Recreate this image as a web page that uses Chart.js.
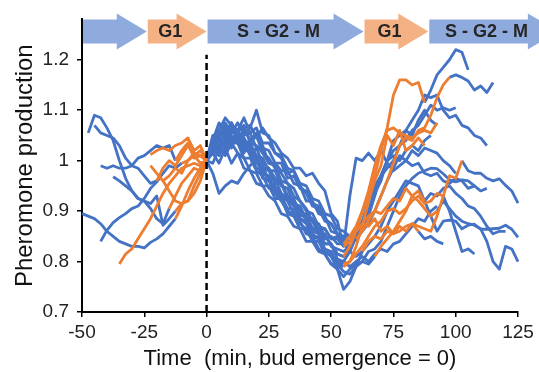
<!DOCTYPE html>
<html>
<head>
<meta charset="utf-8">
<script src="https://cdn.jsdelivr.net/npm/chart.js@4.4.0/dist/chart.umd.min.js"></script>
<style>
  body { margin: 0; background: #fff; }
  .box { width: 539px; height: 372px; }
</style>
</head>
<body>
<div class="box"><canvas id="myChart"></canvas></div>
<script>
// minutes between two points of a trace
const STEP = 2.5;

// every row: start time (min), then pheromone values every STEP min

// S-G2-M before the first G1 (blue)
const preBlue = [
  [-47.5, 1.055, 1.09, 1.085, 1.065, 1.04, 1.0, 0.965, 0.94, 0.925, 0.92, 0.905, 0.885, 0.875, 0.905],
  [-45, 1.07, 1.055, 1.05, 1.045, 1.03, 1.005, 0.99, 0.985, 0.97, 0.955, 0.96],
  [-42.5, 0.99, 0.985, 0.99, 0.985, 0.985, 0.99, 1.005, 1.01, 1.02, 1.03, 1.025, 1.03, 1.0],
  [-50, 0.895, 0.89, 0.885, 0.875, 0.86, 0.85, 0.84, 0.835, 0.83, 0.83, 0.827, 0.838, 0.845, 0.855, 0.87, 0.885],
  [-42.5, 0.84, 0.862, 0.877, 0.887, 0.895, 0.905, 0.91, 0.925, 0.945, 0.958, 0.975, 0.99, 0.985, 0.995],
  [-37.5, 0.968, 0.96, 0.95, 0.94, 0.925, 0.92, 0.915, 0.93, 0.872, 0.885, 0.9]
];

// G1 before bud emergence (orange)
const g1Left = [
  [-15, 0.905, 0.93, 0.955, 0.97, 0.985, 0.98, 1.0],
  [-20, 0.96, 0.985, 1.0, 0.99, 1.01, 1.03, 1.01, 1.02, 1.0],
  [-12.5, 1.0, 1.02, 1.035, 1.005, 1.01, 1.0],
  [-12.5, 0.885, 0.91, 0.94, 0.965, 0.985, 1.0],
  [-10, 0.995, 1.0, 1.01, 0.995, 1.0],
  [-35, 0.795, 0.815, 0.825, 0.845, 0.865, 0.885, 0.91, 0.935, 0.955, 0.97, 0.985, 0.99, 0.995, 0.99, 1.0],
  [-12.5, 0.9, 0.915, 0.92, 0.95, 0.975, 1.0],
  [-22.5, 1.012, 1.02, 1.025, 1.02, 1.03, 1.035, 1.045, 1.02, 1.03, 1.0],
  [-22.5, 0.99, 0.975, 0.96, 0.97, 0.985, 0.975, 1.0, 1.015, 1.01, 1.0],
  [-17.5, 0.96, 0.94, 0.92, 0.915, 0.92, 0.935, 0.96, 1.0]
];

// S-G2-M after bud emergence (blue)
const postBlue = [
  [0, 1.0, 1.03, 1.05, 1.065, 1.04, 1.055, 1.025, 1.03, 0.995, 0.99, 0.96, 0.965, 0.935, 0.925, 0.915, 0.89, 0.895, 0.865, 0.87, 0.845, 0.85, 0.835, 0.835],
  [0, 1.0, 1.025, 1.04, 1.075, 1.055, 1.075, 1.05, 1.055, 1.025, 1.03, 0.995, 0.99, 0.96, 0.955, 0.93, 0.92, 0.9, 0.895, 0.87, 0.865, 0.845, 0.85, 0.84, 0.83, 0.845],
  [0, 1.0, 1.045, 1.06, 1.085, 1.07, 1.06, 1.07, 1.035, 1.05, 1.015, 1.005, 0.985, 0.975, 0.955, 0.945, 0.92, 0.905, 0.88, 0.875, 0.85, 0.835, 0.815, 0.81,
    0.82, 0.85, 0.87, 0.9, 0.935, 0.96, 1.0, 1.04, 1.05, 1.06, 1.08, 1.1, 1.13, 1.125, 1.13, 1.1, 1.085, 1.09, 1.07, 1.065, 1.05, 1.045, 1.03],
  [0, 1.0, 1.02, 1.03, 1.015, 1.04, 1.035, 1.055, 1.065, 1.1, 1.055, 1.05, 1.015, 1.005, 0.975, 0.98, 0.95, 0.935, 0.91, 0.905, 0.88, 0.875, 0.855, 0.85,
    0.85, 0.86, 0.88, 0.9, 0.94, 0.97, 1.0, 1.02, 1.03, 1.04, 1.06, 1.07, 1.09, 1.11, 1.1, 1.105, 1.1, 1.105],
  [0, 1.0, 0.975, 0.935, 0.95, 0.96, 0.955, 0.975, 0.99, 1.005, 0.985, 0.98, 0.955, 0.955, 0.93, 0.925, 0.895, 0.89, 0.865, 0.86, 0.835, 0.835, 0.815, 0.81],
  [0, 1.0, 1.035, 1.06, 1.045, 1.075, 1.05, 1.045, 1.015, 1.005, 0.975, 0.97, 0.935, 0.93, 0.905, 0.905, 0.885, 0.88, 0.855, 0.845, 0.82, 0.82, 0.795, 0.79],
  [0, 1.0, 1.025, 1.01, 1.045, 1.025, 1.06, 1.04, 1.035, 1.03, 1.015, 0.995, 0.995, 0.98, 0.98, 0.955, 0.95, 0.92, 0.92, 0.895, 0.89, 0.86, 0.855, 0.835,
    0.82, 0.81, 0.82, 0.835, 0.85, 0.87, 0.9, 0.92, 0.94, 0.96, 0.955, 0.95, 0.92, 0.89, 0.86, 0.88, 0.882, 0.88, 0.865, 0.872, 0.874, 0.864, 0.864, 0.865, 0.866, 0.872, 0.864, 0.848],
  [0, 1.0, 1.015, 1.025, 1.01, 1.035, 1.015, 1.005, 0.98, 0.975, 0.95, 0.95, 0.925, 0.925, 0.895, 0.89, 0.865, 0.865, 0.84, 0.84, 0.815, 0.815, 0.8, 0.795],
  [0, 1.0, 1.04, 1.075, 1.055, 1.075, 1.045, 1.035, 1.02, 1.005, 0.965, 0.96, 0.935, 0.92, 0.9, 0.895, 0.875, 0.865, 0.845, 0.85, 0.825, 0.82, 0.785, 0.77,
    0.785, 0.795, 0.8, 0.82, 0.825, 0.84, 0.87, 0.9, 0.93, 0.95, 0.965, 0.975, 0.98, 0.985, 0.984, 0.974, 0.962, 0.958, 0.962, 0.96, 0.95],
  [0, 1.0, 1.025, 1.045, 1.065, 1.035, 1.055, 1.025, 1.015, 0.985, 0.98, 0.96, 0.95, 0.93, 0.92, 0.895, 0.88, 0.855, 0.85, 0.825, 0.815, 0.795, 0.785, 0.745, 0.76, 0.79, 0.82],
  [0, 1.0, 1.03, 1.01, 1.04, 1.05, 1.035, 1.065, 1.04, 1.055, 1.025, 1.02, 0.995, 0.995, 0.965, 0.97, 0.945, 0.94, 0.915, 0.91, 0.885, 0.875, 0.855, 0.845,
    0.84, 0.85, 0.87, 0.89, 0.93, 0.97, 1.0, 1.01, 1.0, 1.02, 1.03, 1.02, 1.04, 1.05],
  [0, 1.0, 1.015, 0.995, 1.025, 0.995, 1.015, 0.985, 0.98, 0.955, 0.95, 0.93, 0.92, 0.895, 0.89, 0.87, 0.865, 0.84, 0.84, 0.82, 0.815, 0.795, 0.795, 0.78,
    0.775, 0.79, 0.8, 0.795, 0.81],
  [0, 1.0, 1.045, 1.045, 1.07, 1.045, 1.045, 1.015, 1.035, 1.01, 1.005, 0.98, 0.98, 0.95, 0.945, 0.915, 0.91, 0.885, 0.88, 0.855, 0.855, 0.83, 0.825, 0.82,
    0.83, 0.845, 0.86, 0.875, 0.9, 0.93, 0.96, 0.985, 1.01, 1.0, 1.02, 1.01, 1.025, 1.02, 1.015, 1.0, 0.99, 0.975],
  [0, 1.0, 1.02, 1.04, 1.025, 1.055, 1.06, 1.085, 1.055, 1.065, 1.035, 1.035, 1.015, 1.01, 0.985, 0.98, 0.955, 0.95, 0.925, 0.92, 0.895, 0.89, 0.865, 0.86, 0.85, 0.86],
  [0, 1.0, 1.025, 1.03, 1.055, 1.035, 1.06, 1.065, 1.07, 1.045, 1.065, 1.045, 1.035, 1.015, 1.005, 0.985, 0.985, 0.97, 0.975, 0.955, 0.94, 0.895, 0.88, 0.83,
    0.93, 1.005, 1.0, 1.015, 1.0, 1.02, 0.995, 0.98, 0.99, 1.0, 0.99, 0.995, 0.975, 0.97, 0.975, 0.96, 0.955, 0.965, 0.96, 0.945, 0.95, 0.94, 0.945],
  [0, 1.0, 1.035, 1.045, 1.035, 1.065, 1.04, 1.035, 1.01, 1.025, 0.995, 0.985, 0.955, 0.955, 0.925, 0.915, 0.885, 0.875, 0.85, 0.845, 0.82, 0.81, 0.785, 0.8,
    0.79, 0.8, 0.81, 0.8, 0.815, 0.825, 0.82, 0.835, 0.84, 0.855, 0.87, 0.885, 0.88, 0.9, 0.91],
  [0, 1.0, 1.05, 1.055, 1.055, 1.035, 1.035, 1.005, 1.005, 0.98, 0.97, 0.945, 0.945, 0.925, 0.925, 0.91, 0.905, 0.885, 0.885, 0.865, 0.865, 0.845, 0.845, 0.83],
  [0, 1.0, 0.995, 1.025, 1.035, 1.04, 1.04, 1.045, 1.02, 1.01, 0.985, 0.985, 0.965, 0.955, 0.93, 0.92, 0.895, 0.885, 0.86, 0.855, 0.835, 0.835, 0.805, 0.8,
    0.82, 0.85, 0.88, 0.92, 0.95, 0.97, 0.985, 1.0, 1.03, 1.06, 1.05, 1.08, 1.1, 1.08, 1.07]
];

// second G1 (orange)
const g1Right = [
  [55, 0.835, 0.85, 0.87, 0.9, 0.93, 0.97, 1.02, 1.065, 1.13, 1.16, 1.16, 1.15, 1.155, 1.115],
  [60, 0.845, 0.86, 0.88, 0.9, 0.93, 0.96, 0.995, 1.03, 1.045, 1.04, 1.06, 1.065, 1.09, 1.125, 1.15, 1.165],
  [55, 0.81, 0.83, 0.86, 0.9, 0.94, 0.99, 1.03, 1.06, 1.065, 1.055, 1.05, 1.045, 1.055, 1.06, 1.055, 1.075],
  [55, 0.79, 0.8, 0.83, 0.87, 0.92, 0.96, 0.99, 1.05, 1.03, 1.06, 1.02, 1.03, 1.045, 1.03],
  [55, 0.795, 0.8, 0.815, 0.83, 0.85, 0.87, 0.88, 0.9, 0.905, 0.895, 0.905, 0.92, 0.93, 0.915, 0.92, 0.935, 0.93],
  [62.5, 0.82, 0.84, 0.85, 0.845, 0.86, 0.855, 0.87, 0.86, 0.875, 0.87, 0.865, 0.86, 0.89, 0.93, 0.97, 0.965, 1.0],
  [67.5, 0.81, 0.83, 0.845, 0.86, 0.88, 0.9, 0.93, 0.92, 0.905, 0.89, 0.9],
  [60, 0.86, 0.875, 0.89, 0.9, 0.895, 0.91, 0.925, 0.92, 0.945, 0.93, 0.94, 0.92],
  [55, 0.83, 0.84, 0.86, 0.875, 0.87, 0.885, 0.86, 0.87, 0.855, 0.86, 0.87, 0.875, 0.86]
];

// next S-G2-M (blue)
const nextBlue = [
  [87.5, 1.115, 1.14, 1.17, 1.185, 1.2, 1.22, 1.215, 1.18],
  [97.5, 1.165, 1.17, 1.165, 1.158, 1.14, 1.148, 1.135, 1.155],
  [95, 0.93, 0.9, 0.86, 0.82, 0.825, 0.815],
  [102.5, 1.0, 0.98, 0.975, 0.975, 0.965, 0.96, 0.964, 0.951, 0.94, 0.916],
  [92.5, 0.9, 0.92, 0.905, 0.89, 0.88, 0.875, 0.872, 0.865, 0.84, 0.8, 0.785, 0.83, 0.825, 0.8],
  [87.5, 0.92, 0.935, 0.93, 0.945, 0.95, 0.935, 0.925, 0.91, 0.905, 0.89, 0.87, 0.855, 0.86, 0.86],
  [85, 0.86, 0.845, 0.85, 0.84, 0.835]
];

const xTicks = [-50, -25, 0, 25, 50, 75, 100, 125];
const yTicks = [0.7, 0.8, 0.9, 1, 1.1, 1.2];

// cell cycle arrows along the top
const phaseEdges = [-50, -24, 0, 63, 89, 141];
const phaseLabels = ['', 'G1', 'S - G2 - M', 'G1', 'S - G2 - M'];
const phaseColors = ['#8faadc', '#f4b183', '#8faadc', '#f4b183', '#8faadc'];

const blue = '#4472c4';
const orange = '#ed7d31';
const font = '"Liberation Sans", Arial, sans-serif';

function toPoints(row) {
    return row.slice(1).map((v, i) => ({ x: row[0] + i * STEP, y: v }));
}

function traces(rows, color, order) {
    return rows.map(r => ({
        data: toPoints(r),
        borderColor: color,
        borderWidth: 2.8,
        borderJoinStyle: 'round',
        pointRadius: 0,
        tension: 0,
        clip: false,
        order: order
    }));
}

const phaseBar = {
    id: 'phaseBar',
    afterDraw(chart) {
        const c = chart.ctx;
        const xs = chart.scales.x;
        const top = chart.chartArea.top;
        const head = 30;
        c.save();
        for (let i = 0; i < phaseLabels.length; i++) {
            const x0 = xs.getPixelForValue(phaseEdges[i]) + 1;
            const x1 = xs.getPixelForValue(phaseEdges[i + 1]);
            c.fillStyle = phaseColors[i];
            c.beginPath();
            c.moveTo(x0, top);
            c.lineTo(x1 - head, top);
            c.lineTo(x1 - head, top - 6);
            c.lineTo(x1, top + 12);
            c.lineTo(x1 - head, top + 30);
            c.lineTo(x1 - head, top + 24);
            c.lineTo(x0, top + 24);
            c.closePath();
            c.fill();
            if (phaseLabels[i]) {
                c.fillStyle = '#262626';
                c.font = 'bold 18px ' + font;
                c.textAlign = 'center';
                c.textBaseline = 'middle';
                c.fillText(phaseLabels[i], (x0 + x1) / 2 - 7, top + 13);
            }
        }
        c.restore();
    }
};

const ctx = document.getElementById('myChart');

new Chart(ctx, {
    type: 'line',
    data: {
        datasets: [
            {
                // bud emergence
                data: [{ x: 0, y: 0.7 }, { x: 0, y: 1.21 }],
                borderColor: '#000',
                borderWidth: 2.5,
                borderDash: [7, 4],
                pointRadius: 0,
                order: 0
            },
            ...traces(g1Left, orange, 1),
            ...traces(g1Right, orange, 1),
            ...traces(preBlue, blue, 2),
            ...traces(postBlue, blue, 2),
            ...traces(nextBlue, blue, 2)
        ]
    },
    options: {
        responsive: true,
        maintainAspectRatio: false,
        devicePixelRatio: 1,
        animation: false,
        layout: { padding: { top: 13, right: 21, left: 0, bottom: 0 } },
        plugins: {
            legend: { display: false },
            tooltip: { enabled: false }
        },
        scales: {
            x: {
                type: 'linear',
                min: -50,
                max: 125,
                afterBuildTicks: s => { s.ticks = xTicks.map(v => ({ value: v })); },
                afterFit: s => { s.height = 60; },
                grid: { drawOnChartArea: false, drawTicks: true, tickLength: 5, color: '#000', lineWidth: 1.5 },
                border: { color: '#000', width: 2 },
                ticks: { color: '#222', padding: 4, font: { family: font, size: 19 }, maxRotation: 0 },
                title: {
                    display: true,
                    text: 'Time  (min, bud emergence = 0)',
                    color: '#111',
                    padding: { top: 0, bottom: 0 },
                    font: { family: font, size: 22 }
                }
            },
            y: {
                min: 0.7,
                max: 1.28,
                afterBuildTicks: s => { s.ticks = yTicks.map(v => ({ value: v })); },
                afterFit: s => { s.width = 82; },
                grid: { drawOnChartArea: false, drawTicks: true, tickLength: 5, color: '#000', lineWidth: 1.5 },
                border: { color: '#000', width: 2 },
                ticks: {
                    color: '#222',
                    padding: 8,
                    font: { family: font, size: 19 },
                    callback: v => String(+v.toFixed(2))
                },
                title: {
                    display: true,
                    text: 'Pheromone production',
                    color: '#111',
                    padding: { top: 11, bottom: 0 },
                    font: { family: font, size: 24 }
                }
            }
        }
    },
    plugins: [phaseBar]
});
</script>
</body>
</html>
